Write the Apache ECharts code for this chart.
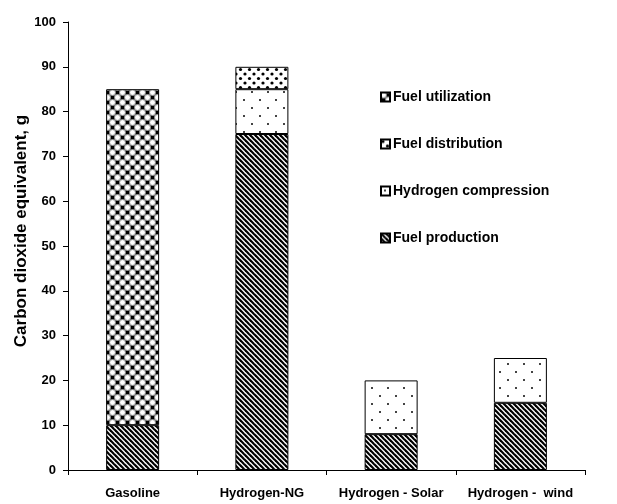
<!DOCTYPE html>
<html>
<head>
<meta charset="utf-8">
<script src="https://cdn.jsdelivr.net/npm/echarts@6/dist/echarts.min.js"></script>
<style>
  html, body { margin: 0; padding: 0; background: #fff; }
  #chart { width: 617px; height: 504px; }
</style>
</head>
<body>
<div id="chart"></div>
<script>
var categories = ['Gasoline', 'Hydrogen-NG', 'Hydrogen - Solar', 'Hydrogen -  wind']
var production = [10, 75, 8, 15]
var compression = [null, 10, 12, 10]
var distribution = [null, 5, null, null]
var utilization = [75, null, null, null]
var yTicks = [0, 10, 20, 30, 40, 50, 60, 70, 80, 90, 100]

var font = "'Liberation Sans', Arial, sans-serif"

// fill patterns drawn on small canvases
function makeTile(size, draw) {
  var c = document.createElement('canvas')
  c.width = size
  c.height = size
  var ctx = c.getContext('2d')
  ctx.fillStyle = '#fff'
  ctx.fillRect(0, 0, size, size)
  draw(ctx, size)
  return { image: c, repeat: 'repeat' }
}

var hatch = makeTile(5, function(ctx, s) {
  ctx.strokeStyle = '#000'
  ctx.lineWidth = 2.2
  for (var k = -s; k <= s; k += s) {
    ctx.beginPath()
    ctx.moveTo(-1, k - 1)
    ctx.lineTo(s + 1, s + k + 1)
    ctx.stroke()
  }
})

var sparseDots = makeTile(16, function(ctx) {
  ctx.fillStyle = '#444'
  ctx.fillRect(3, 3, 2, 2)
  ctx.fillRect(11, 11, 2, 2)
})

var denseDots = makeTile(9, function(ctx) {
  ctx.fillStyle = '#000'
  ctx.beginPath(); ctx.arc(2, 2, 1.6, 0, Math.PI * 2); ctx.fill()
  ctx.beginPath(); ctx.arc(6.5, 6.5, 1.6, 0, Math.PI * 2); ctx.fill()
})

var circles = makeTile(10, function(ctx, s) {
  ctx.fillStyle = '#000'
  ctx.fillRect(5.25, 0.25, 4.5, 4.5)
  ctx.fillRect(0.25, 5.25, 4.5, 4.5)
  var centers = [[2.5, 2.5], [7.5, 7.5]]
  for (var dx = -s; dx <= s; dx += s) {
    for (var dy = -s; dy <= s; dy += s) {
      centers.forEach(function(p) {
        ctx.beginPath()
        ctx.arc(p[0] + dx, p[1] + dy, 2.9, 0, Math.PI * 2)
        ctx.fillStyle = '#fff'
        ctx.fill()
        ctx.strokeStyle = '#888'
        ctx.lineWidth = 0.8
        ctx.stroke()
      })
    }
  }
})

function barSeries(name, data, pattern) {
  return {
    name: name,
    type: 'bar',
    stack: 'total',
    barWidth: 53,
    data: data,
    itemStyle: { color: pattern, borderColor: '#000', borderWidth: 1 }
  }
}

var myChart = echarts.init(document.getElementById('chart'))
var option = {
  animation: false,
  backgroundColor: '#fff',
  grid: { left: 68, right: 32, top: 22, bottom: 34 },
  legend: {
    orient: 'vertical',
    left: 375,
    top: 85,
    itemGap: 33,
    itemWidth: 9,
    itemHeight: 9,
    icon: 'rect',
    data: ['Fuel utilization', 'Fuel distribution', 'Hydrogen compression', 'Fuel production'],
    textStyle: { fontFamily: font, fontWeight: 'bold', fontSize: 14, color: '#000', padding: [0, 0, 0, -2] }
  },
  xAxis: {
    type: 'category',
    data: categories,
    axisLine: { lineStyle: { color: '#000', width: 1 } },
    axisTick: { show: true, length: 5, lineStyle: { color: '#000' } },
    axisLabel: { margin: 17, color: '#000', fontFamily: font, fontWeight: 'bold', fontSize: 13, interval: 0 }
  },
  yAxis: {
    type: 'value',
    min: yTicks[0],
    max: yTicks[yTicks.length - 1],
    interval: 10,
    name: 'Carbon dioxide equivalent, g',
    nameLocation: 'middle',
    nameGap: 38,
    nameMoveOverlap: false,
    nameTextStyle: { fontFamily: font, fontWeight: 'bold', fontSize: 17, color: '#000', padding: [0, 0, 0, 30] },
    axisLine: { show: true, lineStyle: { color: '#000', width: 1 } },
    axisTick: { show: true, length: 5, lineStyle: { color: '#000' } },
    axisLabel: { margin: 12, color: '#000', fontFamily: font, fontWeight: 'bold', fontSize: 13 },
    splitLine: { show: false }
  },
  series: [
    barSeries('Fuel production', production, hatch),
    barSeries('Hydrogen compression', compression, sparseDots),
    barSeries('Fuel distribution', distribution, denseDots),
    barSeries('Fuel utilization', utilization, circles)
  ]
}
myChart.setOption(option)
</script>
</body>
</html>
